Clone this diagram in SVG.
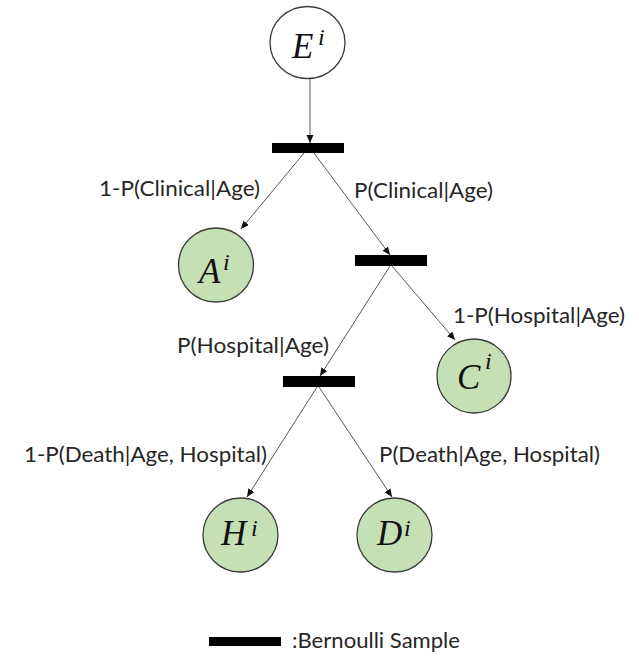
<svg xmlns="http://www.w3.org/2000/svg" width="639" height="656" viewBox="0 0 639 656">
<style>
.lbl{font-family:"Lato","Liberation Sans",sans-serif;font-size:21px;fill:#262626}
.math{font-family:"Liberation Serif","DejaVu Serif",serif;font-style:italic;font-size:35px;fill:#111}
.sup{font-family:"Liberation Serif","DejaVu Serif",serif;font-style:italic;font-size:24px;fill:#111}
.node{fill:#c5e0b4;stroke:#3a3a3a;stroke-width:1.3}
.start{fill:#fff;stroke:#3a3a3a;stroke-width:1.3}
.bar{fill:#000}
.edge{stroke:#595959;stroke-width:1;fill:none;marker-end:url(#arr)}
</style>
<defs>
<marker id="arr" markerUnits="userSpaceOnUse" markerWidth="9" markerHeight="8" refX="8" refY="3.5" orient="auto">
<path d="M0,0 L8,3.5 L0,7 z" fill="#111"/>
</marker>
</defs>
<rect width="639" height="656" fill="#fff"/>
<g id="connectors">
<line class="edge" x1="310" y1="79" x2="310" y2="143"/>
<line class="edge" x1="304" y1="153" x2="241" y2="229"/>
<line class="edge" x1="314" y1="153" x2="390" y2="255"/>
<line class="edge" x1="390" y1="266" x2="320" y2="376"/>
<line class="edge" x1="392" y1="266" x2="455" y2="340"/>
<line class="edge" x1="317" y1="387" x2="247" y2="497"/>
<line class="edge" x1="319" y1="387" x2="392" y2="497"/>
</g>
<g id="E">
<ellipse class="start" cx="307.5" cy="42.5" rx="37.5" ry="36"/>
<text class="math" x="292" y="58">E</text><text class="sup" x="318" y="45">i</text>
</g>
<g id="bar1"><rect class="bar" x="272" y="143" width="72" height="10"/></g>
<g id="A">
<ellipse class="node" cx="216" cy="265" rx="37.5" ry="37"/>
<text class="math" x="199" y="283">A</text><text class="sup" x="223" y="270">i</text>
</g>
<g id="bar2"><rect class="bar" x="355" y="255" width="72" height="11"/></g>
<g id="C">
<ellipse class="node" cx="474" cy="376" rx="37" ry="37"/>
<text class="math" x="457" y="389">C</text><text class="sup" x="485" y="369">i</text>
</g>
<g id="bar3"><rect class="bar" x="283" y="376" width="72" height="11"/></g>
<g id="H">
<ellipse class="node" cx="240.5" cy="535" rx="37.5" ry="37"/>
<text class="math" x="221" y="545">H</text><text class="sup" x="251" y="536">i</text>
</g>
<g id="D">
<ellipse class="node" cx="394.5" cy="535" rx="37.5" ry="37"/>
<text class="math" x="377" y="545">D</text><text class="sup" x="404" y="536">i</text>
</g>
<g id="labels">
<text class="lbl" x="99" y="196" textLength="161" lengthAdjust="spacingAndGlyphs">1-P(Clinical|Age)</text>
<text class="lbl" x="354" y="198" textLength="139" lengthAdjust="spacingAndGlyphs">P(Clinical|Age)</text>
<text class="lbl" x="453" y="323" textLength="172" lengthAdjust="spacingAndGlyphs">1-P(Hospital|Age)</text>
<text class="lbl" x="177" y="353" textLength="152" lengthAdjust="spacingAndGlyphs">P(Hospital|Age)</text>
<text class="lbl" x="24" y="462" textLength="243" lengthAdjust="spacingAndGlyphs">1-P(Death|Age, Hospital)</text>
<text class="lbl" x="379" y="462" textLength="221" lengthAdjust="spacingAndGlyphs">P(Death|Age, Hospital)</text>
</g>
<g id="legend">
<rect class="bar" x="209" y="637" width="72" height="9"/>
<text class="lbl" x="292" y="648" textLength="168" lengthAdjust="spacingAndGlyphs">:Bernoulli Sample</text>
</g>
</svg>
